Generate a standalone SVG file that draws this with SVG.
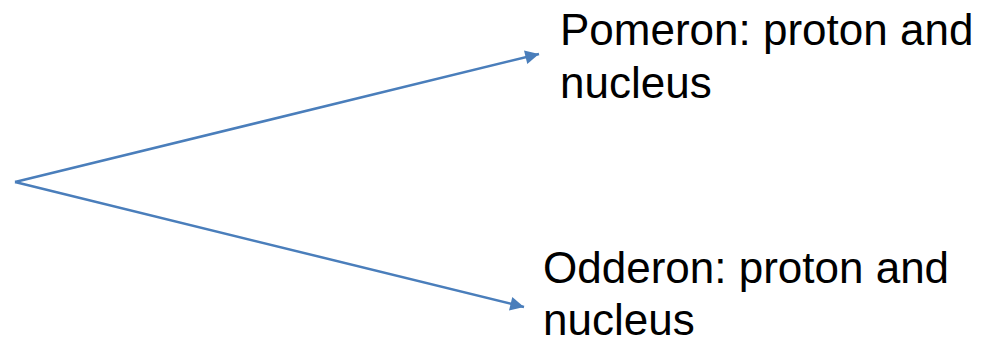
<svg xmlns="http://www.w3.org/2000/svg" width="997" height="341" viewBox="0 0 997 341">
  <style>
    .edge { stroke: #4a7ebb; stroke-width: 2.5; fill: none; }
    .label { font-family: "Liberation Sans", Arial, sans-serif; font-size: 44px; fill: #000000; }
  </style>
  <defs>
    <marker id="arrow" viewBox="0 0 10 10" refX="10" refY="5" markerWidth="7" markerHeight="5.5" markerUnits="strokeWidth" orient="auto">
      <path d="M0,0 L10,5 L0,10 Z" fill="#4a7ebb"/>
    </marker>
  </defs>
  <rect width="997" height="341" fill="#ffffff"/>
  <g id="connectors">
    <line class="edge" x1="15" y1="182" x2="539" y2="54" marker-end="url(#arrow)"/>
    <line class="edge" x1="15" y1="182" x2="524" y2="307" marker-end="url(#arrow)"/>
  </g>
  <g id="pomeron">
    <text class="label" x="560" y="45">Pomeron: proton and</text>
    <text class="label" x="560" y="98">nucleus</text>
  </g>
  <g id="odderon">
    <text class="label" x="543" y="283">Odderon: proton and</text>
    <text class="label" x="543" y="335">nucleus</text>
  </g>
</svg>
